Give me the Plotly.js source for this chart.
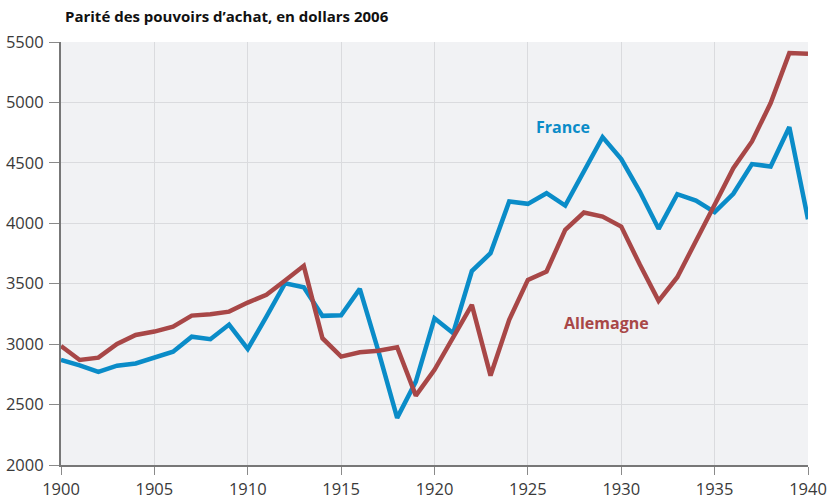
<!DOCTYPE html>
<html>
<head>
<meta charset="utf-8">
<script src="https://cdn.plot.ly/plotly-3.0.1.min.js"></script>
<style>html,body{margin:0;padding:0;background:#fff;}#chart{width:830px;height:499px;}</style>
</head>
<body>
<div id="chart"></div>
<script>
const years = [1900,1901,1902,1903,1904,1905,1906,1907,1908,1909,1910,1911,1912,1913,1914,1915,1916,1917,1918,1919,1920,1921,1922,1923,1924,1925,1926,1927,1928,1929,1930,1931,1932,1933,1934,1935,1936,1937,1938,1939,1940];
const france = [2870,2825,2770,2822,2840,2892,2938,3062,3041,3162,2960,3228,3504,3471,3234,3239,3457,2940,2390,2690,3214,3090,3605,3753,4180,4161,4249,4147,4428,4713,4531,4260,3954,4241,4188,4092,4244,4490,4470,4796,4034];
const allemagne = [2985,2869,2888,3002,3076,3104,3145,3236,3248,3269,3344,3408,3526,3648,3049,2897,2933,2946,2974,2574,2787,3049,3325,2740,3201,3532,3601,3946,4089,4056,3973,3656,3358,3554,3863,4153,4456,4677,4995,5408,5403];
const seriesNames = ['France','Allemagne'];
const labelPos = [[1926.9,4800],[1929.2,3176]];
const colors = ['#0a8cc8','#a84747'];
const xTicks = [1900,1905,1910,1915,1920,1925,1930,1935,1940];
const yTicks = [2000,2500,3000,3500,4000,4500,5000,5500];

const traces = [france, allemagne].map((v,i)=>({
  x: years, y: v, type:'scatter', mode:'lines', name: seriesNames[i],
  line:{color: colors[i], width:4.5, shape:'linear'}, cliponaxis:false
}));

const tf = {family:'"Open Sans", sans-serif', size:16.5, color:'#3a3a3a'};
const layout = {
  width:830, height:499,
  margin:{l:61, r:22, t:42, b:34},
  paper_bgcolor:'#ffffff', plot_bgcolor:'#f1f2f4',
  showlegend:false,
  font:{family:'"Open Sans", sans-serif', color:'#333', size:14},
  title:{text:'<b>Parité des pouvoirs d’achat, en dollars 2006</b>', x:65/830, xanchor:'left', y:1-17/499, yanchor:'middle',
         font:{family:'"Open Sans", sans-serif', size:15, color:'#111'}},
  xaxis:{range:[1900,1940], tickvals:xTicks, ticktext:xTicks.map(String), showgrid:true, gridcolor:'#dadbde', gridwidth:1,
         showline:true, linecolor:'#777777', linewidth:2, ticks:'outside', ticklen:8, tickcolor:'#8a8a8a', tickwidth:1,
         tickfont:tf, zeroline:false, fixedrange:true},
  yaxis:{range:[2000,5500], tickvals:yTicks, ticktext:yTicks.map(String), showgrid:true, gridcolor:'#dadbde', gridwidth:1,
         showline:true, linecolor:'#777777', linewidth:2, ticks:'outside', ticklen:10, tickcolor:'#8a8a8a', tickwidth:1,
         ticklabelstandoff:2, tickfont:tf, zeroline:false, fixedrange:true},
  annotations: seriesNames.map((n,i)=>({
    x: labelPos[i][0], y: labelPos[i][1], text:'<b>'+n+'</b>', showarrow:false,
    font:{family:'"Open Sans", sans-serif', size:16, color:colors[i]}, xanchor:'center', yanchor:'middle'
  }))
};
Plotly.newPlot('chart', traces, layout, {displayModeBar:false, staticPlot:true});
</script>
</body>
</html>
